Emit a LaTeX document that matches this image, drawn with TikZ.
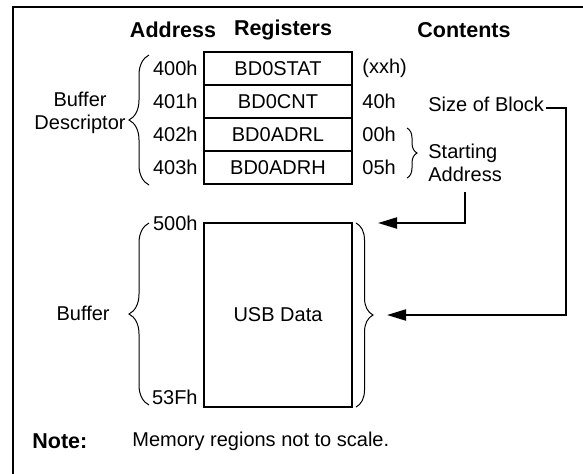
\documentclass[tikz,border=0pt]{standalone}
\usepackage{fontspec}
\setmainfont{Liberation Sans}
\usetikzlibrary{arrows.meta, positioning, decorations.pathreplacing}

\begin{document}
\begin{tikzpicture}[
  x=0.5pt, y=-0.5pt,
  txt/.style={inner sep=1pt, font=\fontsize{10}{11.5}\selectfont},
  head/.style={txt, font=\fontsize{10.75}{12}\selectfont\bfseries},
  reg/.style={txt, rectangle, draw, line width=1pt, outer sep=0pt, minimum width=74pt, minimum height=16.5pt},
  buf/.style={reg, minimum height=92pt},
  brc/.style={decorate, decoration={brace, amplitude=#1}, line width=0.5pt},
  arr/.style={-{Triangle[length=9.5pt, width=5.5pt]}, line width=1pt},
]
  \useasboundingbox (0,0) rectangle (583,473);
  \begin{scope}
    \clip (0,0) rectangle (583,473);
    \draw[line width=1pt] (13,500) -- (13,7) -- (600,7);
  \end{scope}

  % Headers
  \node[head] (haddr) at (173,30) {Address};
  \node[head] (hreg) at (283,30) {Registers};
  \node[head] (hcont) at (464,30) {Contents};

  % Buffer descriptor registers
  \node[reg] (reg1) at (278,68.5) {BD0STAT};
  \node[reg, below=0pt of reg1] (reg2) {BD0CNT};
  \node[reg, below=0pt of reg2] (reg3) {BD0ADRL};
  \node[reg, below=0pt of reg3] (reg4) {BD0ADRH};

  \node[txt, left=2pt of reg1] (a400) {400h};
  \node[txt, left=2pt of reg2] (a401) {401h};
  \node[txt, left=2pt of reg3] (a402) {402h};
  \node[txt, left=2pt of reg4] (a403) {403h};

  \node[txt, right=4pt of reg1] (c1) {(xxh)};
  \node[txt, right=4pt of reg2] (c2) {40h};
  \node[txt, right=4pt of reg3] (c3) {00h};
  \node[txt, right=4pt of reg4] (c4) {05h};

  \node[txt, anchor=west] (size) at (426,104.5) {Size of Block};
  \node[txt, anchor=west, align=left] (start) at (426,163) {Starting\\Address};
  \draw[brc=5pt] (407,128) -- (407,178);

  \draw[brc=10pt] (149,185) -- (149,55);
  \node[txt, align=center, anchor=east] (desc) at (128,113) {Buffer\\Descriptor};

  % Buffer
  \node[buf] (usb) at (278,315) {USB Data};
  \node[txt, left=2pt of usb.north west] (a500) {500h};
  \node[txt, anchor=south east] (a53f) at ([xshift=-2pt]usb.south west) {53Fh};
  \draw[brc=10pt] (149,405) -- (149,223);
  \node[txt, anchor=east] (bufl) at (112,313) {Buffer};
  \draw[brc=8.5pt] (356,223) -- (356,407);

  % Arrows
  \coordinate (intop) at (378,223);
  \coordinate (inmid) at (387,315);
  \draw[arr] ([yshift=-4pt]start.south) |- (intop);
  \draw[arr] ([yshift=-1.5pt]size.east) -- ++(10pt,0) |- (inmid);

  % Note
  \node[head, anchor=west] (note) at (30,441) {Note:};
  \node[txt, anchor=west] (memo) at (130,441) {Memory regions not to scale.};
\end{tikzpicture}
\end{document}
